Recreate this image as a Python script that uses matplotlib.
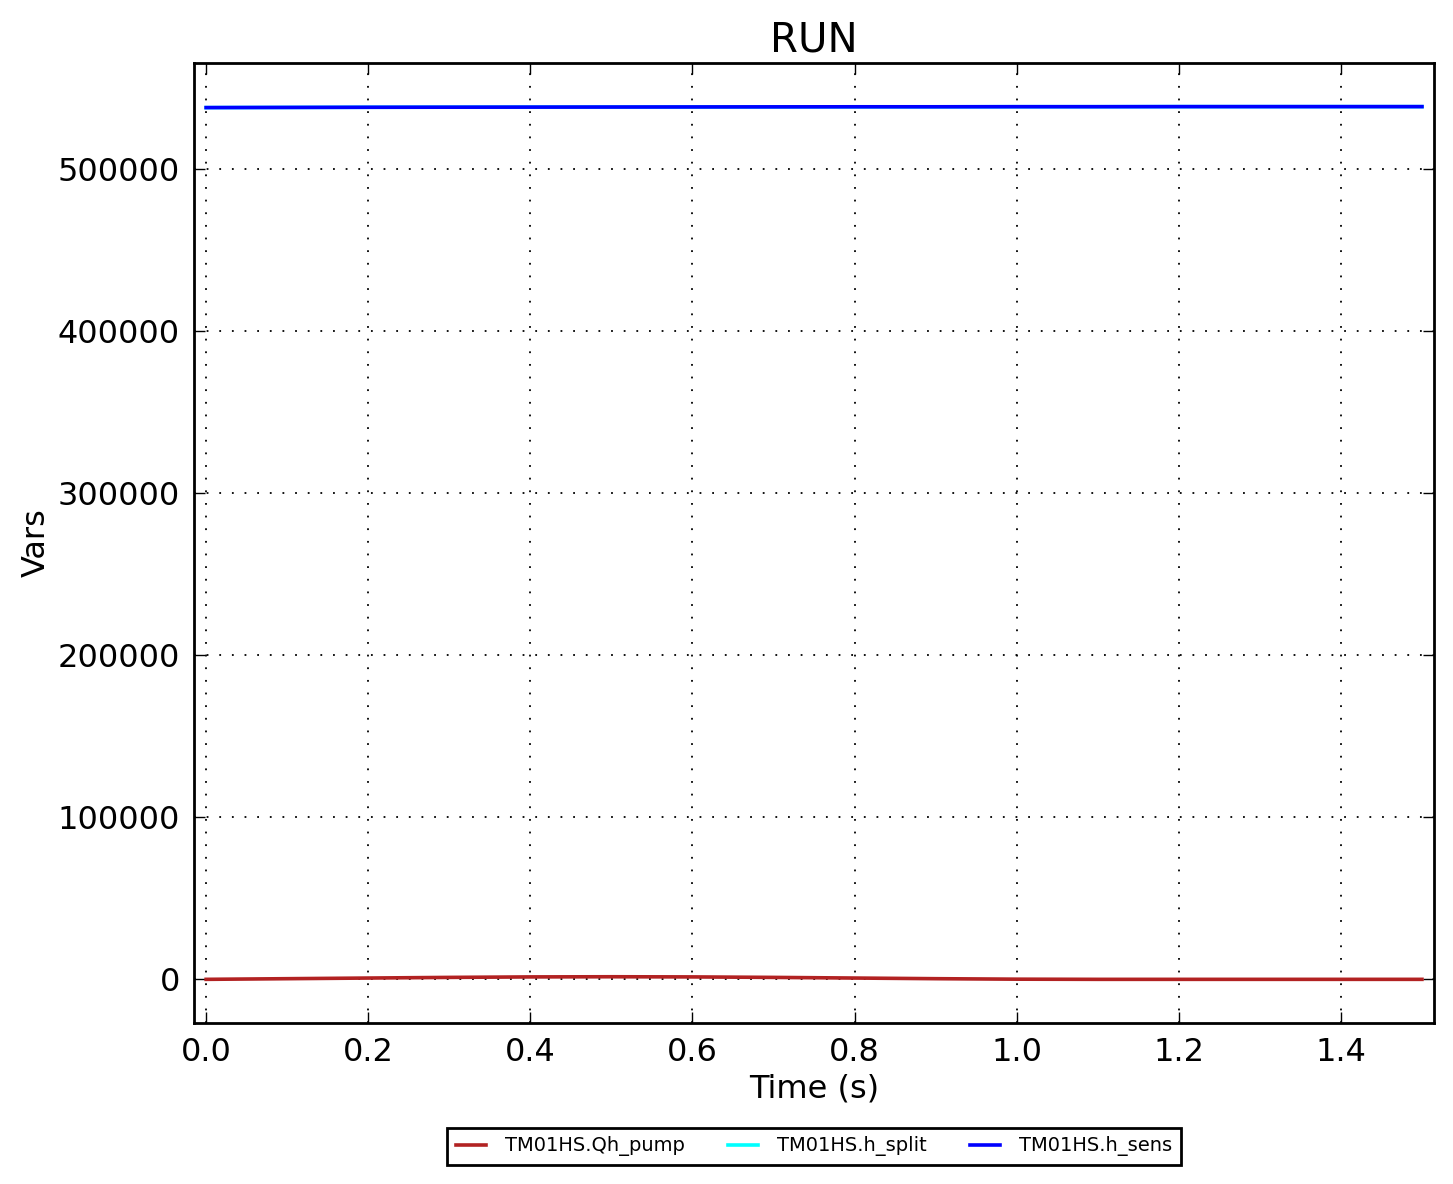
from matplotlib import pyplot as plt
from matplotlib.ticker import ScalarFormatter

time = [0.0, 0.1, 0.2, 0.3, 0.4, 0.5, 0.6, 0.7, 0.8, 0.9, 1.0, 1.1, 1.2, 1.3, 1.4, 1.5]
qh_pump = [0, 400, 800, 1200, 1500, 1600, 1500, 1200, 800, 400, 100, 0, 0, 0, 0, 0]
h_split = [537600, 537700, 537800, 537850, 537900, 537950, 538000, 538050,
           538100, 538100, 538150, 538150, 538200, 538200, 538200, 538200]
h_sens = [537600, 537700, 537800, 537850, 537900, 537950, 538000, 538050,
          538100, 538100, 538150, 538150, 538200, 538200, 538200, 538200]

series_names = ['TM01HS.Qh_pump', 'TM01HS.h_split', 'TM01HS.h_sens']
series_colors = ['#b22222', '#00ffff', '#0000ff']


def main():
    fig = plt.figure(figsize=(14.53, 11.84), dpi=100)
    ax = fig.add_axes([0.1335, 0.136, 0.8535, 0.8108])

    for values, name, color in zip([qh_pump, h_split, h_sens], series_names, series_colors):
        ax.plot(time, values, color=color, linewidth=2.6, label=name)

    ax.margins(x=0.01, y=0.05)
    ax.set_xticks([0.0, 0.2, 0.4, 0.6, 0.8, 1.0, 1.2, 1.4])
    ax.set_yticks([0, 100000, 200000, 300000, 400000, 500000])
    fmt = ScalarFormatter(useOffset=False)
    fmt.set_scientific(False)
    ax.yaxis.set_major_formatter(fmt)

    ax.grid(True, color='black', linestyle=(0, (1, 6)), linewidth=1.3)
    ax.tick_params(direction='in', top=True, right=True, length=8, width=1,
                   labelsize=23, pad=10)
    for spine in ax.spines.values():
        spine.set_linewidth(2)

    ax.set_title('RUN', fontsize=29, pad=8)
    ax.set_xlabel('Time (s)', fontsize=23)
    ax.set_ylabel('Vars', fontsize=23)

    leg = ax.legend(loc='upper center', bbox_to_anchor=(0.5, -0.099), ncol=3,
                    fontsize=14, fancybox=False, framealpha=1, edgecolor='black',
                    handlelength=1.55, handletextpad=1.0, columnspacing=2.2,
                    borderpad=0.45)
    leg.get_frame().set_linewidth(2)

    fig.savefig('out.png', dpi=100, facecolor='white')


if __name__ == '__main__':
    main()
